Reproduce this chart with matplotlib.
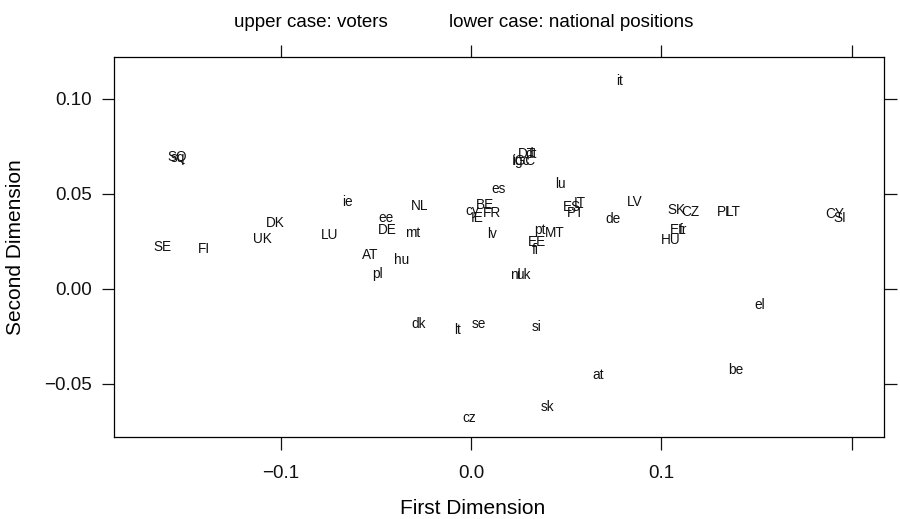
import matplotlib
matplotlib.use('Agg')
import matplotlib.pyplot as plt

plt.rcParams['font.family'] = ['Liberation Sans', 'DejaVu Sans']

# voters (upper case)
voter_labels = ['SQ', 'SE', 'FI', 'DK', 'UK', 'LU', 'NL', 'DE', 'AT',
                'DT', 'IGC', 'BE', 'FR', 'IE', 'ES', 'IT', 'PT', 'LV',
                'MT', 'EE', 'SK', 'CZ', 'EL', 'HU', 'PL', 'LT', 'CY', 'SI']
voter_x = [-0.1543, -0.1622, -0.1402, -0.1029, -0.1097, -0.0745, -0.0268, -0.0441, -0.0530,
           0.0294, 0.0278, 0.0073, 0.0110, 0.0031, 0.0530, 0.0572, 0.0551, 0.0861,
           0.0441, 0.0346, 0.1081, 0.1150, 0.1087, 0.1050, 0.1333, 0.1375, 0.1911, 0.1937]
voter_y = [0.0695, 0.0221, 0.0211, 0.0347, 0.0263, 0.0284, 0.0437, 0.0311, 0.0179,
           0.0711, 0.0674, 0.0442, 0.0400, 0.0374, 0.0432, 0.0453, 0.0400, 0.0458,
           0.0295, 0.0247, 0.0416, 0.0405, 0.0311, 0.0258, 0.0405, 0.0405, 0.0395, 0.0374]

# national positions (lower case)
nation_labels = ['sq', 'ie', 'ee', 'mt', 'hu', 'pl', 'it', 'dt', 'igc', 'es',
                 'lu', 'cy', 'de', 'lv', 'pt', 'fi', 'nl', 'uk', 'fr', 'dk',
                 'lt', 'se', 'si', 'el', 'at', 'be', 'sk', 'cz']
nation_x = [-0.1538, -0.0651, -0.0446, -0.0304, -0.0362, -0.0493, 0.0782, 0.0315, 0.0262, 0.0147,
            0.0472, 0.0005, 0.0745, 0.0110, 0.0362, 0.0336, 0.0231, 0.0273, 0.1113, -0.0273,
            -0.0073, 0.0042, 0.0346, 0.1517, 0.0667, 0.1391, 0.0399, -0.0010]
nation_y = [0.0689, 0.0458, 0.0374, 0.0295, 0.0153, 0.0079, 0.1095, 0.0711, 0.0674, 0.0526,
            0.0553, 0.0411, 0.0368, 0.0289, 0.0311, 0.0205, 0.0074, 0.0074, 0.0311, -0.0184,
            -0.0216, -0.0184, -0.0200, -0.0084, -0.0453, -0.0426, -0.0621, -0.0679]

xticks = [-0.1, 0.0, 0.1, 0.2]
xticklabels = ['\u22120.1', '0.0', '0.1', '']
yticks = [-0.05, 0.0, 0.05, 0.10]
yticklabels = ['\u22120.05', '0.00', '0.05', '0.10']

fig = plt.figure(figsize=(9, 5.19), dpi=100)
ax = fig.add_axes([0.1267, 0.158, 0.8555, 0.7322])

for lab, x, y in zip(voter_labels, voter_x, voter_y):
    ax.text(x, y, lab, ha='center', va='center', fontsize=9.8, color='#111111')
for lab, x, y in zip(nation_labels, nation_x, nation_y):
    ax.text(x, y, lab, ha='center', va='center', fontsize=9.8, color='#111111')

ax.set_xlim(-0.1874, 0.2168)
ax.set_ylim(-0.0779, 0.1221)

ax.set_xticks(xticks)
ax.set_xticklabels(xticklabels)
ax.set_yticks(yticks)
ax.set_yticklabels(yticklabels)
ax.tick_params(direction='out', length=9, width=0.9, labelsize=13.5,
               top=True, right=True, colors='#111111')
ax.tick_params(axis='x', pad=11)
ax.tick_params(axis='y', pad=7)
for s in ax.spines.values():
    s.set_linewidth(0.9)

ax.set_xlabel('First Dimension', fontsize=15)
ax.set_ylabel('Second Dimension', fontsize=15)
ax.xaxis.set_label_coords(0.466, -0.187)
ax.xaxis.label.set_va('center')
ax.yaxis.set_label_coords(-0.1286, 0.5)
ax.yaxis.label.set_va('center')

fig.text(0.345, 0.957, 'upper case: voters', ha='center', va='center', fontsize=13.5)
fig.text(0.635, 0.957, 'lower case: national positions', ha='center', va='center', fontsize=13.5)

fig.savefig('out.png', dpi=100)
